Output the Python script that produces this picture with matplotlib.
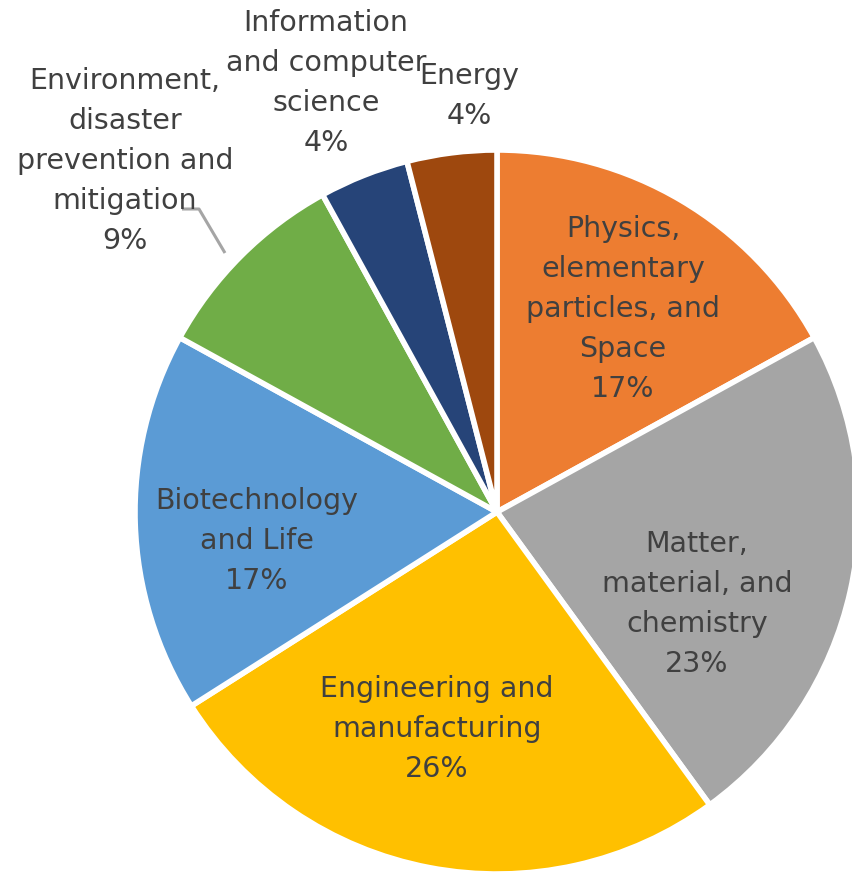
import matplotlib
matplotlib.use("Agg")
import matplotlib.pyplot as plt

categories = [
    "Physics,\nelementary\nparticles, and\nSpace",
    "Matter,\nmaterial, and\nchemistry",
    "Engineering and\nmanufacturing",
    "Biotechnology\nand Life",
    "Environment,\ndisaster\nprevention and\nmitigation",
    "Information\nand computer\nscience",
    "Energy",
]
shares = [17, 23, 26, 17, 9, 4, 4]
colors = ["#ED7D31", "#A5A5A5", "#FFC000", "#5B9BD5", "#70AD47", "#264478", "#9E480E"]

W, H = 853, 874
CX, CY, R = 497, 512, 362

fig = plt.figure(figsize=(W / 100, H / 100), dpi=100)
ax = fig.add_axes([0, 0, 1, 1])
ax.pie(shares, colors=colors, startangle=90, counterclock=False, radius=1,
       wedgeprops=dict(edgecolor="white", linewidth=4))
ax.set_xlim(-CX / R, (W - CX) / R)
ax.set_ylim(-(H - CY) / R, CY / R)
ax.set_aspect("equal")
ax.axis("off")


def to_data(px, py):
    return (px - CX) / R, (CY - py) / R


# label centres in pixel space
label_pos = [(623, 309), (697, 604), (437, 729), (257, 541), (125, 161), (326, 83), (469, 96)]
for name, val, (px, py) in zip(categories, shares, label_pos):
    x, y = to_data(px, py)
    ax.text(x, y, f"{name}\n{val}%", ha="center", va="center", fontsize=20.5,
            color="#404040", family="DejaVu Sans", linespacing=1.55)

# leader line for the environment label
lx, ly = zip(to_data(182, 209), to_data(199, 209), to_data(225, 253))
ax.plot(lx, ly, color="#A5A5A5", linewidth=2.2, solid_capstyle="butt")

fig.savefig("out.png", dpi=100)
